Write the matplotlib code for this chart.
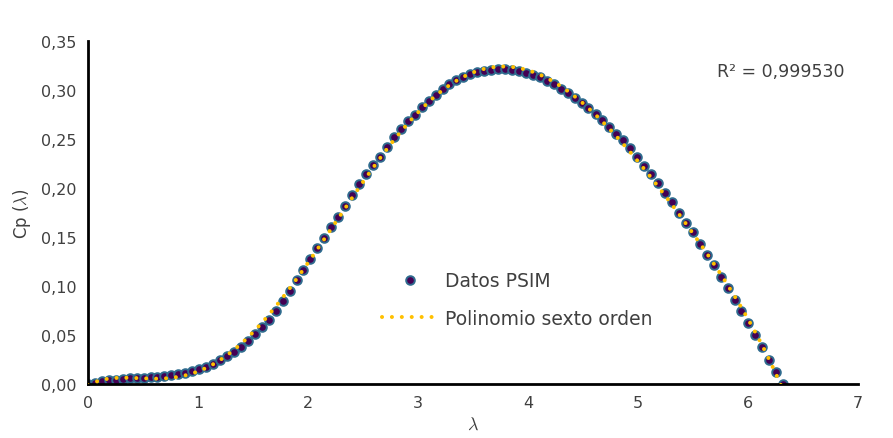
import numpy as np
import matplotlib
matplotlib.use("Agg")
import matplotlib.pyplot as plt
from matplotlib.ticker import FuncFormatter

# datos (lambda, Cp)
lam = [0.000, 0.063, 0.126, 0.190, 0.253, 0.316, 0.379, 0.442, 0.506, 0.569,
       0.632, 0.695, 0.758, 0.822, 0.885, 0.948, 1.011, 1.074, 1.138, 1.201,
       1.264, 1.327, 1.390, 1.454, 1.517, 1.580, 1.643, 1.706, 1.770, 1.833,
       1.896, 1.959, 2.022, 2.086, 2.149, 2.212, 2.275, 2.338, 2.402, 2.465,
       2.528, 2.591, 2.654, 2.718, 2.781, 2.844, 2.907, 2.970, 3.034, 3.097,
       3.160, 3.223, 3.286, 3.350, 3.413, 3.476, 3.539, 3.602, 3.666, 3.729,
       3.792, 3.855, 3.918, 3.982, 4.045, 4.108, 4.171, 4.234, 4.298, 4.361,
       4.424, 4.487, 4.550, 4.614, 4.677, 4.740, 4.803, 4.866, 4.930, 4.993,
       5.056, 5.119, 5.182, 5.246, 5.309, 5.372, 5.435, 5.498, 5.562, 5.625,
       5.688, 5.751, 5.814, 5.878, 5.941, 6.004, 6.067, 6.130, 6.194, 6.257,
       6.320]
cp = [0.0000, 0.0012, 0.0026, 0.0037, 0.0045, 0.0052, 0.0057, 0.0061, 0.0065, 0.0070,
      0.0075, 0.0082, 0.0091, 0.0102, 0.0116, 0.0133, 0.0153, 0.0176, 0.0206, 0.0243,
      0.0284, 0.0327, 0.0378, 0.0443, 0.0509, 0.0580, 0.0657, 0.0745, 0.0845, 0.0950,
      0.1058, 0.1162, 0.1272, 0.1383, 0.1490, 0.1600, 0.1705, 0.1815, 0.1930, 0.2040,
      0.2140, 0.2230, 0.2320, 0.2420, 0.2520, 0.2600, 0.2680, 0.2750, 0.2830, 0.2890,
      0.2950, 0.3010, 0.3060, 0.3100, 0.3130, 0.3160, 0.3180, 0.3195, 0.3207, 0.3213,
      0.3213, 0.3205, 0.3192, 0.3175, 0.3157, 0.3128, 0.3095, 0.3058, 0.3015, 0.2968,
      0.2920, 0.2870, 0.2812, 0.2755, 0.2690, 0.2622, 0.2555, 0.2490, 0.2410, 0.2320,
      0.2225, 0.2138, 0.2050, 0.1945, 0.1855, 0.1750, 0.1648, 0.1555, 0.1430, 0.1316,
      0.1210, 0.1088, 0.0975, 0.0862, 0.0745, 0.0625, 0.0500, 0.0378, 0.0245, 0.0125,
      0.0000]
r2_texto = "R² = 0,999530"

# ajuste polinomial de sexto orden
coef = np.polyfit(lam, cp, 6)
x_fit = np.linspace(min(lam), max(lam), 400)
y_fit = np.polyval(coef, x_fit)

gris = "#404040"
plt.rcParams["font.family"] = ["DejaVu Sans"]

fig = plt.figure(figsize=(8.93, 4.39), dpi=100)
ax = fig.add_axes([0.0985, 0.123, 0.8623, 0.7813])

ax.plot(lam, cp, "o", color="#440154", markeredgecolor="#2f6b8e",
        markersize=6.2, markeredgewidth=1.4, label="Datos PSIM", zorder=2)
ax.plot(x_fit, y_fit, color="#ffc000", linewidth=2.9,
        linestyle=(0, (0.01, 2.45)), dash_capstyle="round",
        label="Polinomio sexto orden", zorder=3)

ax.set_xlim(0, 7)
ax.set_ylim(0, 0.35)
ax.set_xticks(range(0, 8))
ax.set_yticks(np.arange(0, 0.351, 0.05))
ax.yaxis.set_major_formatter(FuncFormatter(lambda v, p: f"{v:.2f}".replace(".", ",")))
ax.tick_params(length=0, labelsize=11.5, labelcolor=gris, pad=8)

for s in ["top", "right"]:
    ax.spines[s].set_visible(False)
for s in ["left", "bottom"]:
    ax.spines[s].set_linewidth(2)
    ax.spines[s].set_color("black")

ax.set_xlabel(r"$\lambda$", fontsize=13, color=gris, labelpad=3, math_fontfamily="cm")
ax.set_ylabel(r"Cp ($\lambda$)", fontsize=12, color=gris, labelpad=6, math_fontfamily="cm")

ax.text(0.983, 0.913, r2_texto, transform=ax.transAxes, ha="right", va="center",
        fontsize=12.5, color=gris)

ax.legend(loc="upper left", bbox_to_anchor=(0.36, 0.378), frameon=False,
          fontsize=13.5, labelcolor=gris, handlelength=3.0, handletextpad=0.35,
          labelspacing=1.0)

fig.savefig("out.png", dpi=100)
